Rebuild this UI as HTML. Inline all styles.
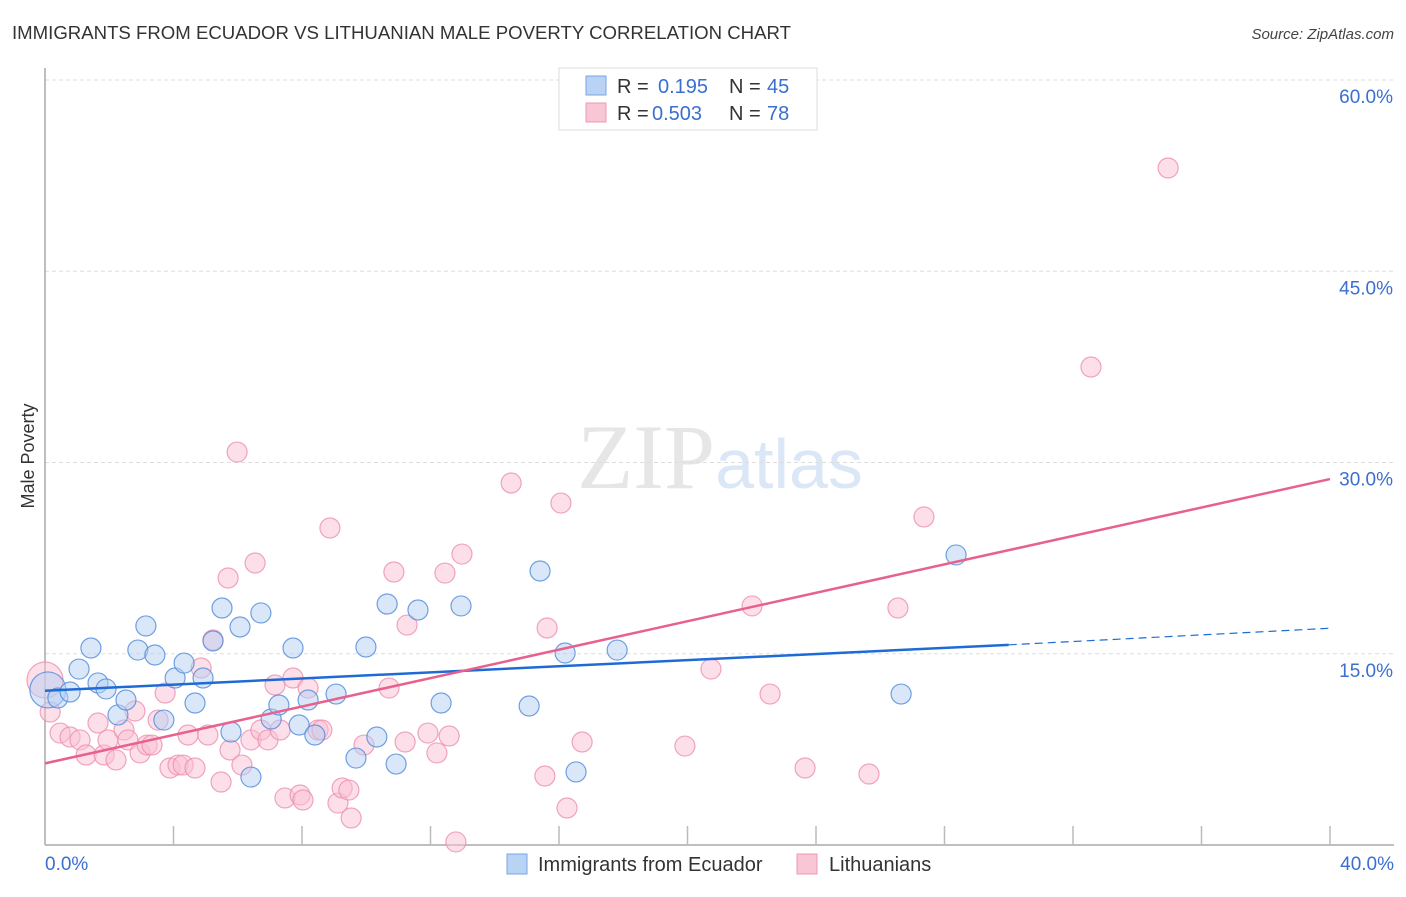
<!DOCTYPE html>
<html><head><meta charset="utf-8"><style>
body{margin:0;background:#fff;font-family:"Liberation Sans",sans-serif}
</style></head><body>
<svg id="chart" width="1406" height="892" xmlns="http://www.w3.org/2000/svg" font-family="Liberation Sans, sans-serif">
<text x="12" y="39" font-size="18" fill="#333" textLength="779" lengthAdjust="spacingAndGlyphs">IMMIGRANTS FROM ECUADOR VS LITHUANIAN MALE POVERTY CORRELATION CHART</text>
<text x="1394" y="39" font-size="15" fill="#444" font-style="italic" text-anchor="end">Source: ZipAtlas.com</text>
<text x="720" y="488" font-size="92" text-anchor="middle" fill="#e6e6e6" font-family="Liberation Serif, serif">ZIP<tspan fill="#dbe7f7" font-family="Liberation Sans, sans-serif" font-size="70">atlas</tspan></text>
<g id="grid"></g><g id="axes"></g><g id="pts"></g><g id="lines"></g>
<text transform="translate(34,456) rotate(-90)" font-size="18" fill="#333" text-anchor="middle">Male Poverty</text>
<g>
<rect x="559" y="68" width="258" height="62" fill="#fff" stroke="#ddd"/>
<rect x="586" y="76" width="20" height="19" fill="#b9d3f5" stroke="#7aa6e0"/>
<rect x="586" y="103" width="20" height="19" fill="#f9c6d6" stroke="#ec98b3"/>
<text x="617" y="93" font-size="20" fill="#333">R =</text><text x="658" y="93" font-size="20" fill="#3a6fd0">0.195</text>
<text x="729" y="93" font-size="20" fill="#333">N =</text><text x="767" y="93" font-size="20" fill="#3a6fd0">45</text>
<text x="617" y="120" font-size="20" fill="#333">R =</text><text x="652" y="120" font-size="20" fill="#3a6fd0">0.503</text>
<text x="729" y="120" font-size="20" fill="#333">N =</text><text x="767" y="120" font-size="20" fill="#3a6fd0">78</text>
</g>
<g>
<rect x="507" y="854" width="20" height="20" fill="#b9d3f5" stroke="#7aa6e0"/>
<text x="538" y="871" font-size="20" fill="#333">Immigrants from Ecuador</text>
<rect x="797" y="854" width="20" height="20" fill="#f9c6d6" stroke="#ec98b3"/>
<text x="829" y="871" font-size="20" fill="#333">Lithuanians</text>
</g>
</svg>
<script>
const yTicks=[15,30,45,60];
const xTickLabels=["0.0%","40.0%"];
const bluePx=[[48,690],[58,698],[70,692],[79,669],[91,648],[98,683],[106,689],[118,715],[126,700],[138,650],[146,626],[155,655],[164,720],[175,678],[184,663],[195,703],[203,678],[213,641],[222,608],[231,732],[240,627],[251,777],[261,613],[271,719],[279,705],[293,648],[299,725],[308,700],[315,735],[336,694],[356,758],[366,647],[377,737],[387,604],[396,764],[418,610],[441,703],[461,606],[529,706],[540,571],[565,653],[576,772],[617,650],[901,694],[956,555]];
const pinkPx=[[45,680],[50,712],[60,733],[70,737],[80,740],[86,755],[98,723],[104,755],[108,740],[116,760],[124,730],[128,740],[135,711],[140,753],[147,745],[152,745],[158,720],[165,693],[170,768],[178,765],[183,765],[188,735],[195,768],[201,668],[208,735],[213,640],[221,782],[228,578],[230,750],[237,452],[242,765],[251,740],[255,563],[261,730],[268,740],[275,685],[280,730],[285,798],[293,678],[300,795],[303,800],[308,688],[318,730],[322,730],[330,528],[338,803],[342,788],[349,790],[351,818],[364,745],[389,688],[394,572],[405,742],[407,625],[428,733],[437,753],[445,573],[449,736],[456,842],[462,554],[511,483],[545,776],[547,628],[561,503],[567,808],[582,742],[685,746],[711,669],[752,606],[770,694],[805,768],[869,774],[898,608],[924,517],[1091,367],[1168,168]];
const blueX=bluePx.map(p=>+((p[0]-45)/32.125).toFixed(2)), blueY=bluePx.map(p=>+((845-p[1])/12.75).toFixed(2));
const pinkX=pinkPx.map(p=>+((p[0]-45)/32.125).toFixed(2)), pinkY=pinkPx.map(p=>+((845-p[1])/12.75).toFixed(2));
const blueLine=[[0,12.1],[30,15.7],[40,17.0]];
const pinkLine=[[0,6.4],[40,28.7]];
const X=v=>45+v*32.125, Y=v=>845-v*12.75;
const NS="http://www.w3.org/2000/svg";
function mk(t,a,p){const e=document.createElementNS(NS,t);for(const k in a)e.setAttribute(k,a[k]);p.appendChild(e);return e;}
const grid=document.getElementById('grid'),axes=document.getElementById('axes'),pts=document.getElementById('pts'),lines=document.getElementById('lines');
yTicks.forEach(t=>{
 const l=mk('line',{x1:45,x2:1394,y1:Y(t),y2:Y(t),stroke:'#ddd','stroke-dasharray':'4,3'},grid);
 
 
 const tx=mk('text',{x:1393,y:Y(t)+23,'font-size':19,fill:'#3a6fd0','text-anchor':'end'},grid);tx.textContent=t.toFixed(1)+'%';
 
 
});
let ax=mk('line',{x1:45,x2:45,y1:68,y2:845,stroke:'#aaa','stroke-width':1.5},axes);


ax=mk('line',{x1:45,x2:1394,y1:845,y2:845,stroke:'#aaa','stroke-width':1.5},axes);


for(let i=1;i<=10;i++){const t=mk('line',{x1:X(i*4),x2:X(i*4),y1:826,y2:845,stroke:'#bbb','stroke-width':1.5},axes);
 
 }
[[0,'start',45],[40,'end',1394]].forEach((d,i)=>{const t=mk('text',{x:d[2],y:870,'font-size':19,fill:'#3a6fd0','text-anchor':d[1]},axes);t.textContent=xTickLabels[i];
 
 });
function dots(xs,ys,fill,stroke,name){xs.forEach((x,i)=>{const r=i===0?18:10;
 const c=mk('circle',{cx:X(x),cy:Y(ys[i]),r:r,fill:fill,'fill-opacity':0.5,stroke:stroke,'stroke-width':1.2,'stroke-opacity':0.8},pts);
 
 });}
dots(pinkX,pinkY,'#f9c0d2','#ec8fb0','lithuanians-point');
dots(blueX,blueY,'#b6d0f3','#4f8ad9','ecuador-point');
let l=mk('line',{x1:X(blueLine[0][0]),y1:Y(blueLine[0][1]),x2:X(blueLine[1][0]),y2:Y(blueLine[1][1]),stroke:'#1f6bd6','stroke-width':2.5},lines);


l=mk('line',{x1:X(blueLine[1][0]),y1:Y(blueLine[1][1]),x2:X(blueLine[2][0]),y2:Y(blueLine[2][1]),stroke:'#1f6bd6','stroke-width':1.2,'stroke-dasharray':'8,5'},lines);


l=mk('line',{x1:X(pinkLine[0][0]),y1:Y(pinkLine[0][1]),x2:X(pinkLine[1][0]),y2:Y(pinkLine[1][1]),stroke:'#e8608e','stroke-width':2.5},lines);


</script>
</body></html>
